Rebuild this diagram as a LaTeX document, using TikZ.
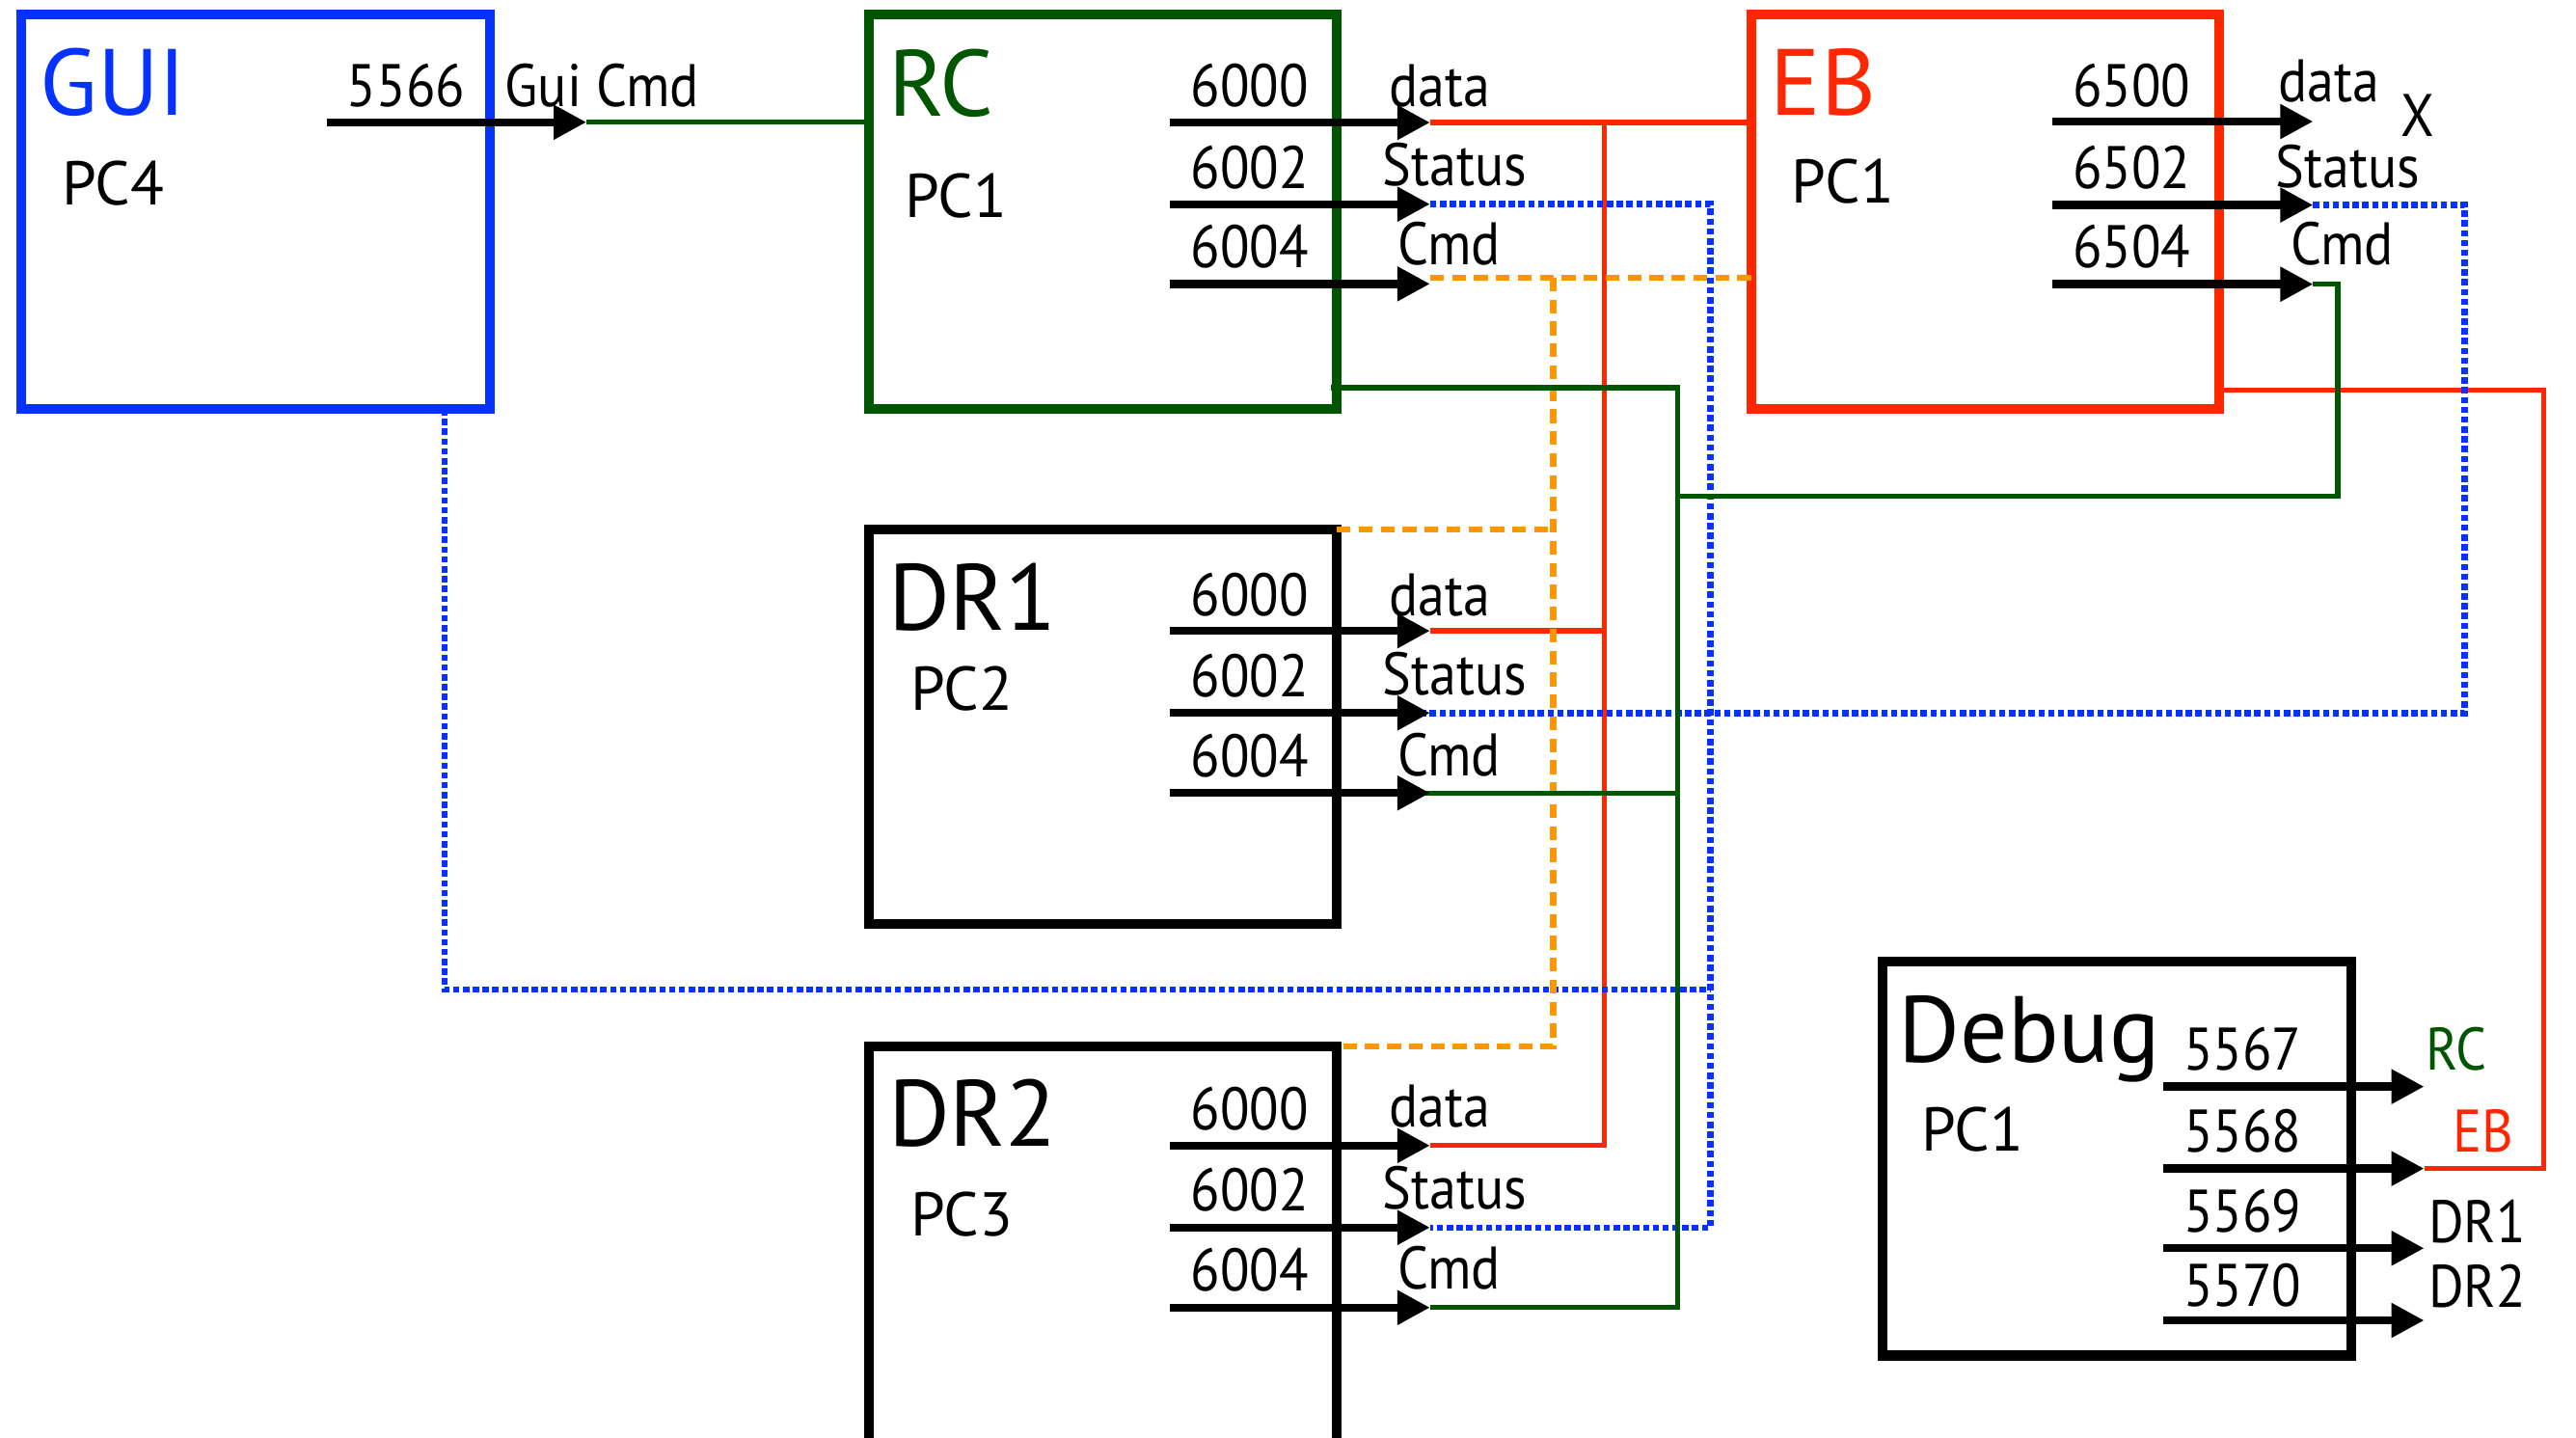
\documentclass[tikz,border=0pt]{standalone}
\usepackage{fontspec}
\setmainfont{PT Sans}
\newfontfamily\portfont{PT Sans}[FakeStretch=0.9]
\usetikzlibrary{arrows.meta}
\definecolor{guiblue}{RGB}{5,50,255}
\definecolor{rcgreen}{RGB}{0,85,0}
\definecolor{ebred}{RGB}{255,38,0}
\definecolor{busorange}{RGB}{255,150,0}
\begin{document}
\begin{tikzpicture}[x=0.1mm, y=-0.1mm,
  box/.style={draw, line width=1.7pt, minimum width=28.5mm, minimum height=24mm, inner sep=0pt, outer sep=0pt},
  title/.style={anchor=base west, inner sep=0pt, font=\fontsize{16.3}{17}\selectfont},
  pc/.style={anchor=base west, inner sep=0pt, font=\fontsize{10.7}{11}\selectfont},
  num/.style={anchor=base west, inner sep=0pt, font=\portfont\fontsize{10.4}{11}\selectfont},
  port/.style={line width=1.4pt, -{Triangle[length=2mm,width=2mm]}},
  bus/.style={line width=0.9pt},
  dotbus/.style={guiblue, line width=1.1pt, dash pattern=on 1.1pt off 0.6pt},
  dashbus/.style={busorange, line width=1.1pt, dash pattern=on 2.4pt off 1.4pt}]
\clip (0,0) rectangle (1568,875);
% Boxes
\node[box, draw=guiblue] (gui) at (155.5,129) {};
\node[box, draw=rcgreen] (rc) at (671.2,129) {};
\node[box, draw=ebred] (eb) at (1208.4,129) {};
\node[box] (dr1) at (671.2,442.2) {};
\node[box, minimum height=30mm] (dr2) at (671.2,787) {};
\node[box] (dbg) at (1288.6,705.1) {};
% Titles
\node[title, guiblue] (gui-t) at (23.6,70.4) {GUI};
\node[title, rcgreen] (rc-t) at (540,70.5) {RC};
\node[title, ebred] (eb-t) at (1077,70.2) {EB};
\node[title] (dr1-t) at (540,383.5) {DR1};
\node[title] (dr2-t) at (540,697.5) {DR2};
\node[title] (dbg-t) at (1155,646.8) {Debug};
\node[pc] (gui-pc) at (37,124.6) {PC4};
\node[pc] (rc-pc) at (550,132.5) {PC1};
\node[pc] (eb-pc) at (1090,123.7) {PC1};
\node[pc] (dr1-pc) at (553.6,432.5) {PC2};
\node[pc] (dr2-pc) at (553.6,752.6) {PC3};
\node[pc] (dbg-pc) at (1168.8,700.4) {PC1};
% Port tips
\coordinate (gui-cmd) at (357,74.4);
\coordinate (rc-data) at (870.5,74.6);
\coordinate (rc-status) at (870.5,124.3);
\coordinate (rc-cmd) at (870.5,172.8);
\coordinate (eb-data) at (1408,74);
\coordinate (eb-status) at (1408,124.8);
\coordinate (eb-cmd) at (1408,173);
\coordinate (dr1-data) at (870.5,384);
\coordinate (dr1-status) at (870.5,434);
\coordinate (dr1-cmd) at (870.5,482.7);
\coordinate (dr2-data) at (870.5,697.3);
\coordinate (dr2-status) at (870.5,747.2);
\coordinate (dr2-cmd) at (870.5,795.9);
\coordinate (dbg-rc) at (1475.6,661.4);
\coordinate (dbg-eb) at (1475.6,711.3);
\coordinate (dbg-dr1) at (1475.6,759.8);
\coordinate (dbg-dr2) at (1475.6,803.7);
% Bus lines
\coordinate (redbus) at (976.6,0);
\coordinate (orangebus) at (945.6,0);
\coordinate (greenbus) at (1021,0);
\coordinate (bluebus) at (1041,0);
\coordinate (ebbus) at (1500.3,0);
\coordinate (gui-tap) at (270.6,249);
\coordinate (blue-low) at (1041,602.3);
\coordinate (rc-out) at (810,236);
\coordinate (rc-cmd-out) at (870.5,169);
\coordinate (eb-out) at (1350.7,237.5);
\coordinate (ebcmd-turn) at (1423,302);
\coordinate (redturn) at (1548.4,711.3);
% data
\draw[bus, ebred] (rc-data) -- (eb.west |- rc-data);
\draw[bus, ebred] (redbus |- rc-data) |- (dr2-data);
\draw[bus, ebred] (dr1-data) -- (redbus |- dr1-data);
\draw[bus, ebred] (eb-out) -| (redturn) -- (dbg-eb);
% Status
\draw[dotbus] (gui-tap) |- (blue-low);
\draw[dotbus] (rc-status) -| (bluebus |- dr2-status) -- (dr2-status);
\draw[dotbus] (eb-status) -| (ebbus |- dr1-status) -- (dr1.east |- dr1-status);
% Cmd
\draw[dashbus] (rc-cmd-out) -- (eb.west |- rc-cmd-out);
\draw[dashbus] (orangebus |- rc-cmd-out) -- (orangebus |- dr2.north east) -- (dr2.north east);
\draw[dashbus] (dr1.north east) -- (orangebus |- dr1.north east);
\draw[bus, rcgreen] (gui-cmd) -- (rc.west |- gui-cmd);
\draw[bus, rcgreen] (rc-out) -| (greenbus |- dr2-cmd) -- (dr2-cmd);
\draw[bus, rcgreen] (dr1.east |- dr1-cmd) -- (greenbus |- dr1-cmd);
\draw[bus, rcgreen] (eb-cmd) -| (ebcmd-turn) -- (greenbus |- ebcmd-turn);
% Ports
\draw[port] ([xshift=-15.8mm]gui-cmd) -- (gui-cmd);
\draw[port] ([xshift=-15.85mm]rc-data) -- (rc-data);
\draw[port] ([xshift=-15.85mm]rc-status) -- (rc-status);
\draw[port] ([xshift=-15.85mm]rc-cmd) -- (rc-cmd);
\draw[port] ([xshift=-15.9mm]eb-data) -- (eb-data);
\draw[port] ([xshift=-15.9mm]eb-status) -- (eb-status);
\draw[port] ([xshift=-15.9mm]eb-cmd) -- (eb-cmd);
\draw[port] ([xshift=-15.85mm]dr1-data) -- (dr1-data);
\draw[port] ([xshift=-15.85mm]dr1-status) -- (dr1-status);
\draw[port] ([xshift=-15.85mm]dr1-cmd) -- (dr1-cmd);
\draw[port] ([xshift=-15.85mm]dr2-data) -- (dr2-data);
\draw[port] ([xshift=-15.85mm]dr2-status) -- (dr2-status);
\draw[port] ([xshift=-15.85mm]dr2-cmd) -- (dr2-cmd);
\draw[port] ([xshift=-15.9mm]dbg-rc) -- (dbg-rc);
\draw[port] ([xshift=-15.9mm]dbg-eb) -- (dbg-eb);
\draw[port] ([xshift=-15.9mm]dbg-dr1) -- (dbg-dr1);
\draw[port] ([xshift=-15.9mm]dbg-dr2) -- (dbg-dr2);
% Labels
\node[num] (gui-n) at (210.6,64.6) {5566};
\node[num] (gui-l) at (306.7,64.6) {Gui Cmd};
\node[num] (rc-n1) at (724,64.6) {6000};
\node[num] (rc-n2) at (724,114.5) {6002};
\node[num] (rc-n3) at (724,162.8) {6004};
\node[num] (rc-l1) at (845,64.6) {data};
\node[num] (rc-l2) at (841,113) {Status};
\node[num] (rc-l3) at (850,161.4) {Cmd};
\node[num] (eb-n1) at (1261,65) {6500};
\node[num] (eb-n2) at (1261,115) {6502};
\node[num] (eb-n3) at (1261,163) {6504};
\node[num] (eb-l1) at (1386,62) {data};
\node[num, text depth=0pt] (eb-x) at (1461,83) {X};
\node[num] (eb-l2) at (1384.5,114) {Status};
\node[num] (eb-l3) at (1393.6,161.4) {Cmd};
\node[num] (dr1-n1) at (724,374.6) {6000};
\node[num] (dr1-n2) at (724,424) {6002};
\node[num] (dr1-n3) at (724,473) {6004};
\node[num] (dr1-l1) at (845,374.6) {data};
\node[num] (dr1-l2) at (841,423) {Status};
\node[num] (dr1-l3) at (850,472) {Cmd};
\node[num] (dr2-n1) at (724,688) {6000};
\node[num] (dr2-n2) at (724,737) {6002};
\node[num] (dr2-n3) at (724,786) {6004};
\node[num] (dr2-l1) at (845,686) {data};
\node[num] (dr2-l2) at (841,736) {Status};
\node[num] (dr2-l3) at (850,784.5) {Cmd};
\node[num] (dbg-n1) at (1328.4,651.2) {5567};
\node[num] (dbg-n2) at (1328.4,701.5) {5568};
\node[num] (dbg-n3) at (1328.4,749.9) {5569};
\node[num] (dbg-n4) at (1328.4,794.9) {5570};
\node[num, rcgreen] (dbg-l1) at (1476.2,651.6) {RC};
\node[num, ebred] (dbg-l2) at (1492.7,701.5) {EB};
\node[num] (dbg-l3) at (1477.6,756.3) {DR1};
\node[num] (dbg-l4) at (1477.6,795.5) {DR2};
\end{tikzpicture}
\end{document}
